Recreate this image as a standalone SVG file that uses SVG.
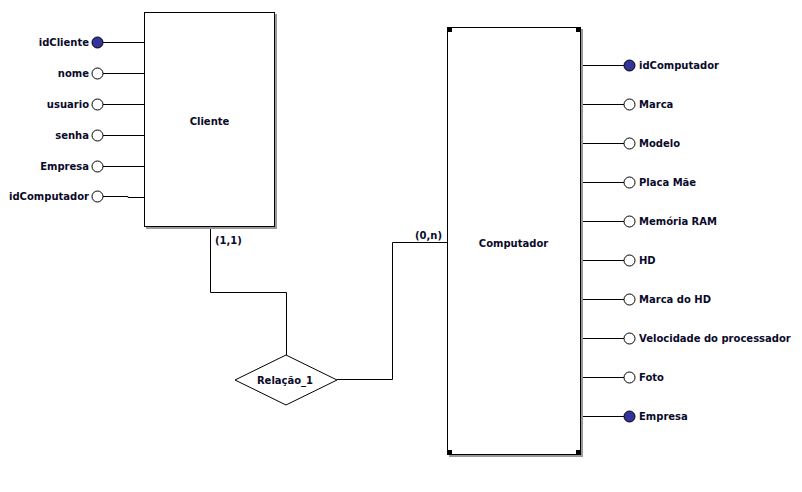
<svg xmlns="http://www.w3.org/2000/svg" width="802" height="492" viewBox="0 0 802 492">
<style>
.ent{fill:#fff;stroke:#000;stroke-width:1}
.sh{fill:none;stroke:#999;stroke-width:2}
.ln{fill:none;stroke:#000;stroke-width:1}
.t{font-family:"DejaVu Sans",Verdana,sans-serif;font-weight:bold;font-size:10px;fill:#0a0a2a}
.pk{fill:#333399;stroke:#000;stroke-width:1}
.at{fill:#fff;stroke:#000;stroke-width:1}
.cn{fill:#000}
</style>
<rect width="802" height="492" fill="#fff"/>
<g id="connectors">
<polyline class="ln" points="210.5,227 210.5,292.5 286.5,292.5 286.5,355"/>
<polyline class="ln" points="337,379.5 392.5,379.5 392.5,242.5 447,242.5"/>
<text class="t" x="215" y="244">(1,1)</text>
<text class="t" x="442" y="239" text-anchor="end">(0,n)</text>
</g>
<g id="Cliente">
<polyline class="sh" points="276,14 276,228 146,228"/>
<rect class="ent" x="144.5" y="12.5" width="130" height="214"/>
<text class="t" x="209.5" y="124.5" text-anchor="middle">Cliente</text>
</g>
<g id="Cliente-attrs">
<line class="ln" x1="103" y1="42.5" x2="144" y2="42.5"/>
<circle class="pk" cx="97.5" cy="42.5" r="5.5"/>
<text class="t" x="89" y="46" text-anchor="end">idCliente</text>
<line class="ln" x1="103" y1="73.5" x2="144" y2="73.5"/>
<circle class="at" cx="97.5" cy="73.5" r="5.5"/>
<text class="t" x="89" y="77" text-anchor="end">nome</text>
<line class="ln" x1="103" y1="104.5" x2="144" y2="104.5"/>
<circle class="at" cx="97.5" cy="104.5" r="5.5"/>
<text class="t" x="89" y="108" text-anchor="end">usuario</text>
<line class="ln" x1="103" y1="135.5" x2="144" y2="135.5"/>
<circle class="at" cx="97.5" cy="135.5" r="5.5"/>
<text class="t" x="89" y="139" text-anchor="end">senha</text>
<line class="ln" x1="103" y1="166.5" x2="144" y2="166.5"/>
<circle class="at" cx="97.5" cy="166.5" r="5.5"/>
<text class="t" x="89" y="170" text-anchor="end">Empresa</text>
<polyline class="ln" points="103,196.5 128,196.5 128,197.5 144,197.5"/>
<circle class="at" cx="97.5" cy="196.5" r="5.5"/>
<text class="t" x="89" y="200" text-anchor="end">idComputador</text>
</g>
<g id="Computador">
<polyline class="sh" points="582,29 582,456 449,456"/>
<rect class="ent" x="447.5" y="27.5" width="133" height="427"/>
<rect class="cn" x="447" y="27" width="5" height="5"/>
<rect class="cn" x="576" y="27" width="5" height="5"/>
<rect class="cn" x="447" y="450" width="5" height="5"/>
<rect class="cn" x="576" y="450" width="5" height="5"/>
<text class="t" x="513.5" y="246.5" text-anchor="middle">Computador</text>
</g>
<g id="Computador-attrs">
<line class="ln" x1="583" y1="65.5" x2="624" y2="65.5"/>
<circle class="pk" cx="629.5" cy="65.5" r="5.5"/>
<text class="t" x="639" y="69">idComputador</text>
<line class="ln" x1="583" y1="104.5" x2="624" y2="104.5"/>
<circle class="at" cx="629.5" cy="104.5" r="5.5"/>
<text class="t" x="639" y="108">Marca</text>
<line class="ln" x1="583" y1="143.5" x2="624" y2="143.5"/>
<circle class="at" cx="629.5" cy="143.5" r="5.5"/>
<text class="t" x="639" y="147">Modelo</text>
<line class="ln" x1="583" y1="182.5" x2="624" y2="182.5"/>
<circle class="at" cx="629.5" cy="182.5" r="5.5"/>
<text class="t" x="639" y="186">Placa Mãe</text>
<line class="ln" x1="583" y1="221.5" x2="624" y2="221.5"/>
<circle class="at" cx="629.5" cy="221.5" r="5.5"/>
<text class="t" x="639" y="225">Memória RAM</text>
<line class="ln" x1="583" y1="260.5" x2="624" y2="260.5"/>
<circle class="at" cx="629.5" cy="260.5" r="5.5"/>
<text class="t" x="639" y="264">HD</text>
<line class="ln" x1="583" y1="299.5" x2="624" y2="299.5"/>
<circle class="at" cx="629.5" cy="299.5" r="5.5"/>
<text class="t" x="639" y="303">Marca do HD</text>
<line class="ln" x1="583" y1="338.5" x2="624" y2="338.5"/>
<circle class="at" cx="629.5" cy="338.5" r="5.5"/>
<text class="t" x="639" y="342">Velocidade do processador</text>
<line class="ln" x1="583" y1="377.5" x2="624" y2="377.5"/>
<circle class="at" cx="629.5" cy="377.5" r="5.5"/>
<text class="t" x="639" y="381">Foto</text>
<line class="ln" x1="583" y1="416.5" x2="624" y2="416.5"/>
<circle class="pk" cx="629.5" cy="416.5" r="5.5"/>
<text class="t" x="639" y="420">Empresa</text>
</g>
<g id="Relacao_1">
<polygon points="286,355 337,380 286,405 235,380" fill="#fff" stroke="#000" stroke-width="1"/>
<text class="t" x="285" y="384" text-anchor="middle">Relação_1</text>
</g>
</svg>
